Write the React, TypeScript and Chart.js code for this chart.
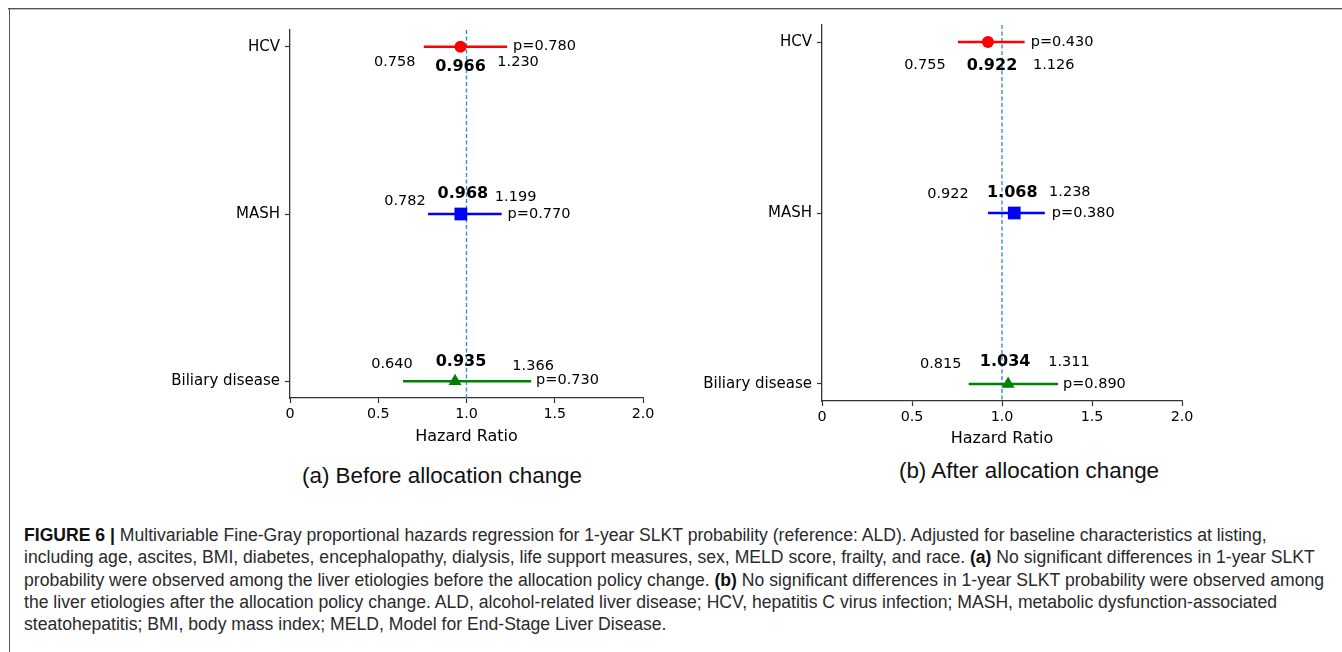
import React, { useEffect, useRef } from 'react';
import { Chart, registerables } from 'chart.js';

Chart.register(...registerables);

// ---------- data ----------
const CATEGORIES = ['HCV', 'MASH', 'Biliary disease'];
const COLORS = ['#ff0000', '#0000ff', '#008000'];
const MARKERS = ['circle', 'rect', 'triangle'];
const X_TICKS = [0, 0.5, 1, 1.5, 2];
const X_TICK_LABELS = ['0', '0.5', '1.0', '1.5', '2.0'];
const REFERENCE_HR = 1;

const BEFORE_HR = [0.966, 0.968, 0.935];
const BEFORE_LOWER = [0.758, 0.782, 0.64];
const BEFORE_UPPER = [1.23, 1.199, 1.366];
const BEFORE_P = [0.78, 0.77, 0.73];

const AFTER_HR = [0.922, 1.068, 1.034];
const AFTER_LOWER = [0.755, 0.922, 0.815];
const AFTER_UPPER = [1.126, 1.238, 1.311];
const AFTER_P = [0.43, 0.38, 0.89];

// ---------- layout / style ----------
const Y_MIN = -0.1;
const Y_MAX = 2.1;
const MARKER_RADIUS = [6, 9, 7.5];
const FONT = '"DejaVu Sans", sans-serif';

// text offsets (px) relative to value pixels: [lowerDx, lowerDy, hrDx, hrDy, upperDx, upperDy, pDx, pDy]
const BEFORE_LABEL_OFFSETS = [
  [-29, 16, 0, 20, 11, 16, 6, 0],
  [-23, -13, 2, -20, 14, -17, 6, 0],
  [-11, -17, 6, -19, 2, -15, 5, -1],
];
const AFTER_LABEL_OFFSETS = [
  [-33, 23, 4, 24, 29, 23, 6, 0],
  [-40, -19, -2, -20, 25, -21, 7, 0],
  [-28, -20, -3, -22, 11, -22, 5, 0],
];

const CAPTION_LINES: Array<Array<[string, boolean]>> = [
  [['FIGURE 6 |', true], [' Multivariable Fine-Gray proportional hazards regression for 1-year SLKT probability (reference: ALD). Adjusted for baseline characteristics at listing,', false]],
  [['including age, ascites, BMI, diabetes, encephalopathy, dialysis, life support measures, sex, MELD score, frailty, and race. ', false], ['(a)', true], [' No significant differences in 1-year SLKT', false]],
  [['probability were observed among the liver etiologies before the allocation policy change. ', false], ['(b)', true], [' No significant differences in 1-year SLKT probability were observed among', false]],
  [['the liver etiologies after the allocation policy change. ALD, alcohol-related liver disease; HCV, hepatitis C virus infection; MASH, metabolic dysfunction-associated', false]],
  [['steatohepatitis; BMI, body mass index; MELD, Model for End-Stage Liver Disease.', false]],
];

type PanelProps = {
  hr: number[];
  lower: number[];
  upper: number[];
  p: number[];
  offsets: number[][];
  left: number;
  top: number;
  width: number;
  height: number;
  padding: { top: number; right: number; bottom: number; left: number };
  yAxisWidth: number;
  xAxisHeight: number;
};

function ForestPanel(props: PanelProps) {
  const ref = useRef<HTMLCanvasElement | null>(null);
  useEffect(() => {
    if (!ref.current) return;
    const { hr, lower, upper, p, offsets } = props;

    const markerSets = CATEGORIES.map((c, i) => ({
      label: c + ' HR',
      data: [{ x: hr[i], y: i }],
      showLine: false,
      pointStyle: MARKERS[i],
      pointRadius: MARKER_RADIUS[i],
      pointBackgroundColor: COLORS[i],
      pointBorderColor: COLORS[i],
      pointBorderWidth: 0,
    }));
    const ciSets = CATEGORIES.map((c, i) => ({
      label: c + ' CI',
      data: [
        { x: lower[i], y: i },
        { x: upper[i], y: i },
      ],
      showLine: true,
      borderColor: COLORS[i],
      borderWidth: 2.5,
      pointRadius: 0,
    }));
    const refSet = {
      label: 'ref',
      data: [
        { x: REFERENCE_HR, y: Y_MIN },
        { x: REFERENCE_HR, y: Y_MAX },
      ],
      showLine: true,
      borderColor: '#3a8ed6',
      borderWidth: 1.4,
      borderDash: [4, 2.5],
      pointRadius: 0,
    };

    const annotate = {
      id: 'forestLabels',
      afterDatasetsDraw(chart: any) {
        const { ctx } = chart;
        const xs = chart.scales.x;
        const ys = chart.scales.y;
        ctx.save();
        ctx.fillStyle = '#000';
        ctx.textBaseline = 'middle';
        CATEGORIES.forEach((_, i) => {
          const o = offsets[i];
          const py = ys.getPixelForValue(i);
          const pl = xs.getPixelForValue(lower[i]);
          const ph = xs.getPixelForValue(hr[i]);
          const pu = xs.getPixelForValue(upper[i]);
          ctx.font = `14.5px ${FONT}`;
          ctx.textAlign = 'center';
          ctx.fillText(lower[i].toFixed(3), pl + o[0], py + o[1]);
          ctx.fillText(upper[i].toFixed(3), pu + o[4], py + o[5]);
          ctx.font = `bold 16px ${FONT}`;
          ctx.fillText(hr[i].toFixed(3), ph + o[2], py + o[3]);
          ctx.font = `14.5px ${FONT}`;
          ctx.textAlign = 'left';
          ctx.fillText('p=' + p[i].toFixed(3), pu + o[6], py + o[7]);
        });
        ctx.restore();
      },
    };

    const chart = new Chart(ref.current, {
      type: 'scatter',
      data: { datasets: [...markerSets, ...ciSets, refSet] as any },
      options: {
        animation: false,
        responsive: false,
        devicePixelRatio: 1,
        layout: { padding: props.padding },
        plugins: { legend: { display: false }, tooltip: { enabled: false }, title: { display: false } },
        scales: {
          x: {
            type: 'linear',
            min: 0,
            max: 2,
            afterBuildTicks: (s: any) => {
              s.ticks = X_TICKS.map((v) => ({ value: v }));
            },
            ticks: {
              callback: (_v: any, i: number) => X_TICK_LABELS[i],
              autoSkip: false,
              maxRotation: 0,
              padding: 3,
              color: '#000',
              font: { family: FONT, size: 14.3 },
            },
            grid: { display: true, drawOnChartArea: false, drawTicks: true, tickLength: 5, tickColor: '#333', tickWidth: 1.2 },
            border: { display: true, color: '#333', width: 1.3 },
            title: { display: true, text: 'Hazard Ratio', color: '#000', font: { family: FONT, size: 16 }, padding: { top: 0, bottom: 0 } },
            afterFit: (s: any) => {
              s.height = props.xAxisHeight;
            },
          },
          y: {
            type: 'linear',
            min: Y_MIN,
            max: Y_MAX,
            reverse: true,
            afterBuildTicks: (s: any) => {
              s.ticks = CATEGORIES.map((_, i) => ({ value: i }));
            },
            ticks: {
              callback: (_v: any, i: number) => CATEGORIES[i],
              autoSkip: false,
              padding: 5,
              color: '#000',
              font: { family: FONT, size: 15 },
            },
            grid: { display: true, drawOnChartArea: false, drawTicks: true, tickLength: 5, tickColor: '#333', tickWidth: 1.2 },
            border: { display: true, color: '#333', width: 1.3 },
            afterFit: (s: any) => {
              s.width = props.yAxisWidth;
            },
          },
        },
      } as any,
      plugins: [annotate],
    });
    return () => chart.destroy();
  }, []);
  return (
    <canvas
      ref={ref}
      width={props.width}
      height={props.height}
      style={{ position: 'absolute', left: props.left, top: props.top, width: props.width, height: props.height }}
    />
  );
}

export default function App() {
  const subStyle: React.CSSProperties = {
    position: 'absolute',
    width: 600,
    textAlign: 'center',
    fontFamily: '"Liberation Sans", Arial, sans-serif',
    fontSize: 22.4,
    lineHeight: '26px',
    color: '#111',
    whiteSpace: 'nowrap',
  };
  return (
    <div style={{ position: 'absolute', left: 0, top: 0, width: 1342, height: 652, overflow: 'hidden', background: '#fff' }}>
      <div style={{ position: 'absolute', left: 8, top: 8, width: 1334, height: 1, background: '#555' }} />
      <div style={{ position: 'absolute', left: 8, top: 9, width: 1334, height: 1, background: '#bbb' }} />
      <div style={{ position: 'absolute', left: 9, top: 8, width: 1, height: 644, background: '#555' }} />

      <ForestPanel
        hr={BEFORE_HR}
        lower={BEFORE_LOWER}
        upper={BEFORE_UPPER}
        p={BEFORE_P}
        offsets={BEFORE_LABEL_OFFSETS}
        left={150}
        top={10}
        width={530}
        height={450}
        padding={{ top: 20, right: 37, bottom: 14, left: 0 }}
        yAxisWidth={140}
        xAxisHeight={48}
      />
      <ForestPanel
        hr={AFTER_HR}
        lower={AFTER_LOWER}
        upper={AFTER_UPPER}
        p={AFTER_P}
        offsets={AFTER_LABEL_OFFSETS}
        left={680}
        top={5}
        width={530}
        height={450}
        padding={{ top: 20, right: 28, bottom: 7, left: 0 }}
        yAxisWidth={142}
        xAxisHeight={47}
      />

      <div style={{ ...subStyle, left: 442 - 300, top: 476 - 13 }}>(a) Before allocation change</div>
      <div style={{ ...subStyle, left: 1029 - 300, top: 471 - 13 }}>(b) After allocation change</div>

      {CAPTION_LINES.map((line, li) => (
        <div
          key={li}
          style={{
            position: 'absolute',
            left: 24,
            top: 535 + li * 22.3 - 11,
            lineHeight: '22px',
            fontFamily: '"Liberation Sans", Arial, sans-serif',
            fontSize: 17.6,
            color: '#2a2a2a',
            whiteSpace: 'nowrap',
          }}
        >
          {line.map(([t, b], k) => (
            <span key={k} style={b ? { fontWeight: 'bold', color: '#111' } : undefined}>
              {t}
            </span>
          ))}
        </div>
      ))}
    </div>
  );
}
